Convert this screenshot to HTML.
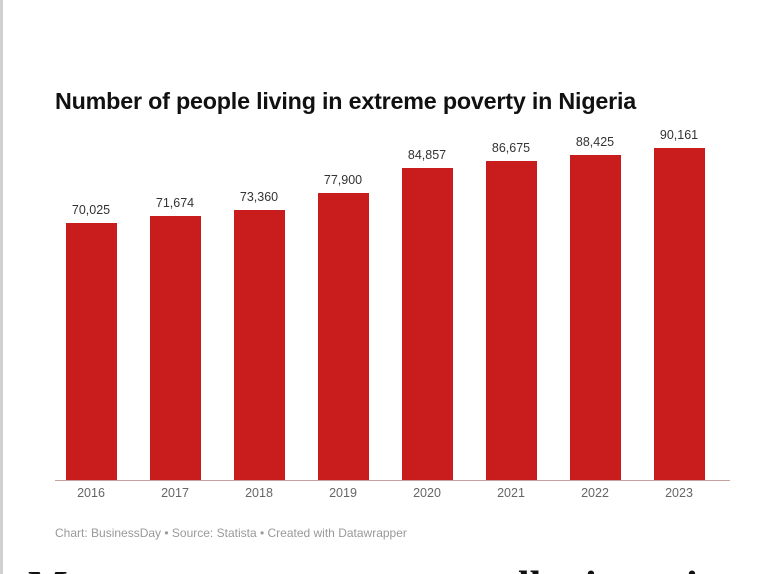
<!DOCTYPE html>
<html style="overflow:hidden;height:574px"><head><style>
html,body{margin:0;width:768px;height:574px;overflow:hidden}
body{background:#fff;position:relative;font-family:"Liberation Sans",sans-serif}
.edge{position:absolute;left:0;top:0;width:3px;height:574px;background:#d0d0d0}
.t{position:absolute;left:55px;top:88px;font-size:23.3px;font-weight:bold;color:#111;letter-spacing:-0.2px}
.b{position:absolute;width:51px;background:#c91c1c;bottom:94px}
.v{position:absolute;width:80px;text-align:center;font-size:12.5px;color:#333}
.y{position:absolute;top:486px;width:80px;text-align:center;font-size:12.5px;color:#666}
.base{position:absolute;left:55px;width:675px;top:480px;height:1px;background:#c9a0a0}
.f{position:absolute;left:55px;top:526px;font-size:12px;color:#999}
.clip{position:absolute;left:0;top:560px;width:768px;height:14px;overflow:hidden}
.s{position:absolute;top:6px;font-family:"Liberation Serif",serif;font-weight:bold;font-size:42px;color:#111;line-height:42px}
</style></head><body>
<div class="edge"></div>
<div class="t">Number of people living in extreme poverty in Nigeria</div>
<div class="base"></div>
<div class="b" style="left:66px;top:223px"></div><div class="v" style="left:51px;top:203px">70,025</div><div class="y" style="left:51px">2016</div>
<div class="b" style="left:150px;top:216px"></div><div class="v" style="left:135px;top:196px">71,674</div><div class="y" style="left:135px">2017</div>
<div class="b" style="left:234px;top:210px"></div><div class="v" style="left:219px;top:190px">73,360</div><div class="y" style="left:219px">2018</div>
<div class="b" style="left:318px;top:193px"></div><div class="v" style="left:303px;top:173px">77,900</div><div class="y" style="left:303px">2019</div>
<div class="b" style="left:402px;top:168px"></div><div class="v" style="left:387px;top:148px">84,857</div><div class="y" style="left:387px">2020</div>
<div class="b" style="left:486px;top:161px"></div><div class="v" style="left:471px;top:141px">86,675</div><div class="y" style="left:471px">2021</div>
<div class="b" style="left:570px;top:155px"></div><div class="v" style="left:555px;top:135px">88,425</div><div class="y" style="left:555px">2022</div>
<div class="b" style="left:654px;top:148px"></div><div class="v" style="left:639px;top:128px">90,161</div><div class="y" style="left:639px">2023</div>
<div class="f">Chart: BusinessDay • Source: Statista • Created with Datawrapper</div>
<div class="clip">
<div class="s" style="left:28px">M</div>
<div class="s" style="left:518px">ll</div>
<div class="s" style="left:585px">i</div>
<div class="s" style="left:628px">t</div>
<div class="s" style="left:686px">i</div>
</div>
</body></html>
